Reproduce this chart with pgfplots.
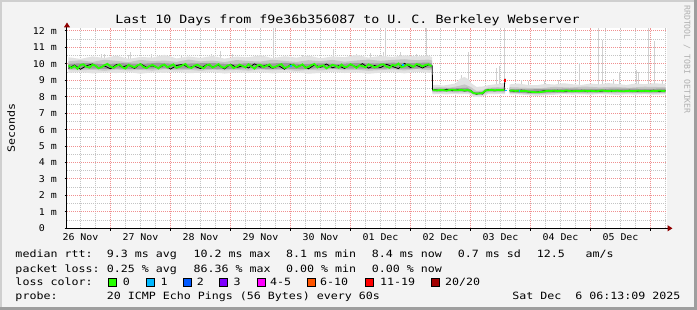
\documentclass[border=0pt]{standalone}
\usepackage{pgfplots}
\pgfplotsset{compat=1.18}
\usepackage{fontspec}
\usetikzlibrary{arrows.meta}
\newfontfamily\monoT[FakeStretch=1.166]{DejaVu Sans Mono}
\newfontfamily\monoL[FakeStretch=1.163]{DejaVu Sans Mono}
\newfontfamily\monoK[FakeStretch=1.07]{DejaVu Sans Mono}
\newfontfamily\monoW{DejaVu Sans Mono}
\newcommand\titlefont{\monoT\fontsize{11.4}{12}\selectfont}
\newcommand\legfont{\monoL\fontsize{10}{11}\selectfont}
\newcommand\tickfont{\monoK\fontsize{9.3}{10}\selectfont}
\definecolor{canvas}{HTML}{F3F3F3}
\definecolor{shadea}{HTML}{CFCFCF}
\definecolor{shadeb}{HTML}{9E9E9E}
\definecolor{majgrid}{HTML}{F09090}
\definecolor{mingrid}{HTML}{C4C4C4}
\definecolor{arrowred}{HTML}{900000}
\definecolor{smokeA}{HTML}{E2E2E2}
\definecolor{smokeB}{HTML}{C6C6C6}
\definecolor{smokeC}{HTML}{9C9C9C}
\definecolor{spike}{HTML}{D0D0D0}
\definecolor{loss0}{HTML}{26FF00}
\definecolor{loss1}{HTML}{00B8FF}
\definecolor{loss2}{HTML}{0059FF}
\definecolor{loss3}{HTML}{7E00FF}
\definecolor{loss4}{HTML}{FF00FF}
\definecolor{loss6}{HTML}{FF5500}
\definecolor{loss11}{HTML}{FF0000}
\definecolor{loss20}{HTML}{A10000}
\definecolor{wmark}{HTML}{B0B0B0}
\begin{document}
\begin{tikzpicture}[x=1pt,y=1pt]
\useasboundingbox (0,0) rectangle (697,310);
\fill[canvas] (0,0) rectangle (697,310);
\fill[shadea] (0,0) rectangle (2,310);
\fill[shadea] (0,308) rectangle (697,310);
\fill[shadeb] (694,0) rectangle (697,310);
\fill[shadeb] (0,0) rectangle (697,3);

\begin{axis}[
  at={(67pt,81.7pt)}, anchor=south west,
  scale only axis, width=600pt, height=200.3pt,
  xmin=0.275, xmax=10.275, ymin=0, ymax=12.18,
  axis background/.style={fill=white},
  axis lines=left,
  axis line style={draw=black, line width=1pt, -{Triangle[length=5pt,width=6pt,color=arrowred,fill=arrowred]}, shorten >=-5.5pt},
  xtick={1,2,3,4,5,6,7,8,9,10}, xticklabels={},
  minor xtick={0.5,0.75,1.25,1.5,1.75,2.25,2.5,2.75,3.25,3.5,3.75,4.25,4.5,4.75,5.25,5.5,5.75,6.25,6.5,6.75,7.25,7.5,7.75,8.25,8.5,8.75,9.25,9.5,9.75,10.25},
  ytick={0,1,2,3,4,5,6,7,8,9,10,11,12},
  yticklabels={0\phantom{\ m},1 m,2 m,3 m,4 m,5 m,6 m,7 m,8 m,9 m,10 m,11 m,12 m},
  minor ytick={0.5,1.5,2.5,3.5,4.5,5.5,6.5,7.5,8.5,9.5,10.5,11.5},
  grid=both,
  major grid style={draw=majgrid, line width=1pt, dash pattern=on 1pt off 1pt},
  minor grid style={draw=mingrid, line width=1pt, dash pattern=on 1pt off 1pt},
  tick align=outside, major tick length=2.5pt, minor tick length=0pt,
  tick style={black, line width=1pt},
  extra x ticks={0.5,1.5,2.5,3.5,4.5,5.5,6.5,7.5,8.5,9.5},
  extra x tick labels={26 Nov,27 Nov,28 Nov,29 Nov,30 Nov,01 Dec,02 Dec,03 Dec,04 Dec,05 Dec},
  extra x tick style={grid=none, major tick length=0pt},
  xticklabel style={font=\tickfont, anchor=north, inner sep=0pt, yshift=-5pt},
  yticklabel style={font=\tickfont, anchor=east, inner sep=0pt, xshift=-7.4pt},
  unbounded coords=jump,
]
% spikes
\addplot[spike, line width=1pt] coordinates {
(0.85,10.3)(0.85,10.57)(0.85,nan)(0.90,10.3)(0.90,10.62)(0.90,nan)
(1.30,10.3)(1.30,10.55)(1.30,nan)(1.34,10.3)(1.34,10.70)(1.34,nan)
(1.68,10.3)(1.68,10.60)(1.68,nan)(2.18,10.3)(2.18,10.50)(2.18,nan)
(2.69,10.3)(2.69,10.60)(2.69,nan)(2.83,10.3)(2.83,10.80)(2.83,nan)
(3.04,10.3)(3.04,10.60)(3.04,nan)(3.71,10.3)(3.71,12.18)(3.71,nan)
(4.20,10.3)(4.20,10.55)(4.20,nan)(4.71,10.3)(4.71,10.90)(4.71,nan)
(5.10,10.3)(5.10,10.60)(5.10,nan)(5.33,10.3)(5.33,10.65)(5.33,nan)
(5.55,10.3)(5.55,10.70)(5.55,nan)(5.59,10.3)(5.59,12.18)(5.59,nan)
(5.83,10.3)(5.83,10.70)(5.83,nan)(6.00,10.3)(6.00,10.50)(6.00,nan)
(6.10,10.3)(6.10,10.60)(6.10,nan)(6.26,10.3)(6.26,12.18)(6.26,nan)
(6.85,8.7)(6.85,9.30)(6.85,nan)(6.96,8.7)(6.96,10.75)(6.96,nan)
(7.44,8.7)(7.44,9.77)(7.44,nan)(7.49,8.7)(7.49,9.85)(7.49,nan)
(7.56,8.7)(7.56,12.18)(7.56,nan)(7.85,8.7)(7.85,9.04)(7.85,nan)
(7.96,8.7)(7.96,8.94)(7.96,nan)(8.24,8.7)(8.24,8.95)(8.24,nan)
(8.46,8.7)(8.46,9.04)(8.46,nan)(8.81,8.7)(8.81,10.04)(8.81,nan)
(9.13,8.7)(9.13,12.18)(9.13,nan)(9.20,8.7)(9.20,11.46)(9.20,nan)
(9.38,8.7)(9.38,9.10)(9.38,nan)(9.48,8.7)(9.48,9.53)(9.48,nan)
(9.76,8.7)(9.76,9.63)(9.76,nan)(9.80,8.7)(9.80,9.53)(9.80,nan)
(9.97,8.7)(9.97,12.18)(9.97,nan)(10.07,8.7)(10.07,11.36)(10.07,nan)
(10.20,8.7)(10.20,9.00)
};
% light smoke
\addplot[fill=smokeA, draw=none] coordinates {
(0.30,10.40)(0.50,10.30)(0.70,10.45)(0.90,10.35)(1.10,10.50)(1.30,10.30)(1.50,10.42)(1.70,10.38)(1.90,10.55)(2.10,10.33)(2.30,10.45)(2.50,10.36)(2.70,10.48)(2.90,10.32)(3.10,10.44)(3.30,10.40)(3.50,10.52)(3.70,10.35)(3.90,10.46)(4.10,10.38)(4.30,10.50)(4.50,10.34)(4.70,10.45)(4.90,10.40)(5.10,10.55)(5.30,10.38)(5.50,10.48)(5.70,10.42)(5.90,10.52)(6.10,10.45)(6.30,10.50)(6.36,10.40)
(6.36,9.50)(6.30,9.45)(6.10,9.52)(5.90,9.42)(5.70,9.50)(5.50,9.46)(5.30,9.40)(5.10,9.48)(4.90,9.44)(4.70,9.52)(4.50,9.45)(4.30,9.40)(4.10,9.50)(3.90,9.47)(3.70,9.42)(3.50,9.50)(3.30,9.44)(3.10,9.48)(2.90,9.41)(2.70,9.50)(2.50,9.46)(2.30,9.43)(2.10,9.52)(1.90,9.45)(1.70,9.48)(1.50,9.40)(1.30,9.50)(1.10,9.44)(0.90,9.47)(0.70,9.42)(0.50,9.50)(0.30,9.45)
} -- cycle;
\addplot[fill=smokeA, draw=none] coordinates {
(6.365,8.70)(6.45,8.72)(6.55,8.68)(6.65,8.74)(6.75,8.80)(6.83,9.10)(6.90,9.20)(6.97,9.05)(7.02,8.80)(7.10,8.60)(7.20,8.62)(7.30,8.70)(7.40,8.75)(7.50,8.80)(7.575,8.85)
(7.575,8.15)(7.50,8.18)(7.40,8.15)(7.30,8.17)(7.22,8.05)(7.15,7.98)(7.05,8.00)(6.98,8.15)(6.90,8.17)(6.80,8.15)(6.70,8.18)(6.60,8.14)(6.50,8.17)(6.40,8.15)(6.365,8.16)
} -- cycle;
\addplot[fill=smokeA, draw=none] coordinates {
(7.65,8.75)(7.80,8.80)(7.95,8.72)(8.10,8.70)(8.25,8.78)(8.40,8.74)(8.55,8.82)(8.70,8.76)(8.85,8.72)(9.00,8.80)(9.15,8.75)(9.30,8.83)(9.45,8.77)(9.60,8.72)(9.75,8.80)(9.90,8.76)(10.05,8.82)(10.25,8.78)
(10.25,8.15)(10.05,8.12)(9.90,8.16)(9.75,8.13)(9.60,8.15)(9.45,8.11)(9.30,8.14)(9.15,8.16)(9.00,8.12)(8.85,8.15)(8.70,8.13)(8.55,8.16)(8.40,8.12)(8.25,8.10)(8.10,8.05)(7.95,8.10)(7.80,8.14)(7.65,8.15)
} -- cycle;
% mid smoke
\addplot[fill=smokeB, draw=none] coordinates {
(0.30,10.15)(0.50,10.22)(0.70,10.12)(0.90,10.25)(1.10,10.18)(1.30,10.10)(1.50,10.24)(1.70,10.16)(1.90,10.20)(2.10,10.12)(2.30,10.26)(2.50,10.15)(2.70,10.20)(2.90,10.11)(3.10,10.23)(3.30,10.17)(3.50,10.14)(3.70,10.25)(3.90,10.18)(4.10,10.12)(4.30,10.22)(4.50,10.16)(4.70,10.24)(4.90,10.13)(5.10,10.20)(5.30,10.26)(5.50,10.18)(5.70,10.24)(5.90,10.28)(6.10,10.22)(6.30,10.26)(6.36,10.20)
(6.36,9.65)(6.30,9.62)(6.10,9.68)(5.90,9.60)(5.70,9.66)(5.50,9.62)(5.30,9.58)(5.10,9.64)(4.90,9.61)(4.70,9.67)(4.50,9.60)(4.30,9.63)(4.10,9.58)(3.90,9.65)(3.70,9.61)(3.50,9.66)(3.30,9.59)(3.10,9.63)(2.90,9.60)(2.70,9.66)(2.50,9.58)(2.30,9.64)(2.10,9.61)(1.90,9.67)(1.70,9.59)(1.50,9.63)(1.30,9.60)(1.10,9.65)(0.90,9.58)(0.70,9.64)(0.50,9.61)(0.30,9.63)
} -- cycle;
\addplot[fill=smokeB, draw=none] coordinates {
(6.365,8.55)(6.50,8.58)(6.65,8.55)(6.80,8.65)(6.90,8.75)(7.00,8.60)(7.10,8.35)(7.20,8.38)(7.30,8.55)(7.45,8.58)(7.575,8.56)
(7.575,8.25)(7.45,8.27)(7.30,8.26)(7.20,8.12)(7.10,8.10)(7.02,8.25)(6.90,8.27)(6.75,8.25)(6.60,8.28)(6.45,8.26)(6.365,8.27)
} -- cycle;
\addplot[fill=smokeB, draw=none] coordinates {
(7.65,8.58)(7.90,8.55)(8.15,8.52)(8.40,8.60)(8.65,8.56)(8.90,8.62)(9.15,8.57)(9.40,8.60)(9.65,8.55)(9.90,8.61)(10.25,8.58)
(10.25,8.22)(9.90,8.20)(9.65,8.23)(9.40,8.21)(9.15,8.22)(8.90,8.20)(8.65,8.23)(8.40,8.21)(8.15,8.15)(7.90,8.20)(7.65,8.22)
} -- cycle;
% dark smoke
\addplot[fill=smokeC, draw=none] coordinates {
(0.30,10.00)(0.60,10.05)(0.90,9.98)(1.20,10.04)(1.50,10.00)(1.80,10.06)(2.10,9.99)(2.40,10.03)(2.70,10.05)(3.00,9.98)(3.30,10.04)(3.60,10.01)(3.90,10.06)(4.20,9.99)(4.50,10.03)(4.80,10.00)(5.10,10.05)(5.40,10.02)(5.70,10.07)(6.00,10.04)(6.30,10.08)(6.36,10.02)
(6.36,9.72)(6.30,9.74)(6.00,9.70)(5.70,9.73)(5.40,9.69)(5.10,9.72)(4.80,9.70)(4.50,9.74)(4.20,9.68)(3.90,9.71)(3.60,9.69)(3.30,9.73)(3.00,9.70)(2.70,9.68)(2.40,9.72)(2.10,9.70)(1.80,9.73)(1.50,9.68)(1.20,9.71)(0.90,9.69)(0.60,9.72)(0.30,9.70)
} -- cycle;
\addplot[fill=smokeC, draw=none] coordinates {
(6.365,8.48)(6.60,8.50)(6.80,8.52)(6.95,8.55)(7.05,8.30)(7.20,8.30)(7.25,8.48)(7.575,8.50)
(7.575,8.32)(7.25,8.33)(7.20,8.15)(7.05,8.15)(6.95,8.32)(6.60,8.33)(6.365,8.32)
} -- cycle;
\addplot[fill=smokeC, draw=none] coordinates {
(7.65,8.47)(8.00,8.45)(8.30,8.48)(8.70,8.49)(9.10,8.47)(9.50,8.50)(9.90,8.48)(10.25,8.49)
(10.25,8.27)(9.90,8.26)(9.50,8.28)(9.10,8.27)(8.70,8.26)(8.30,8.25)(8.00,8.20)(7.65,8.27)
} -- cycle;
% black line
\addplot[black, line width=0.8pt] coordinates {
(0.3,9.73)(0.4,9.93)(0.5,9.67)(0.6,9.89)(0.7,9.99)(0.8,9.76)(0.9,9.87)(1.0,9.70)(1.1,9.96)(1.2,9.81)(1.3,9.92)(1.4,9.72)(1.5,10.01)(1.6,9.79)(1.7,9.88)(1.8,9.74)(1.9,9.94)(2.0,9.68)(2.1,9.90)(2.2,9.97)(2.3,9.77)(2.4,9.86)(2.5,9.71)(2.6,9.95)(2.7,9.82)(2.8,9.91)(2.9,9.69)(3.0,9.98)(3.1,9.78)(3.2,9.87)(3.3,9.75)(3.4,10.00)(3.5,9.80)(3.6,9.93)(3.7,9.73)(3.8,9.89)(3.9,9.67)(4.0,9.96)(4.1,9.83)(4.2,9.92)(4.3,9.70)(4.4,9.94)(4.5,9.79)(4.6,9.99)(4.7,9.76)(4.8,9.88)(4.9,9.72)(5.0,9.95)(5.1,9.81)(5.2,10.01)(5.3,9.74)(5.4,9.90)(5.5,9.77)(5.6,9.97)(5.7,9.84)(5.8,9.71)(5.9,10.03)(6.0,9.78)(6.1,9.91)(6.2,9.75)(6.3,9.94)(6.35,9.88)(6.363,9.88)(6.366,8.42)
(6.4,8.44)(6.5,8.36)(6.6,8.45)(6.7,8.37)(6.8,8.43)(6.9,8.35)(7.0,8.40)(7.05,8.24)(7.1,8.15)(7.15,8.22)(7.2,8.17)(7.25,8.36)(7.3,8.44)(7.4,8.36)(7.5,8.43)(7.56,8.40)(7.575,9.10)(7.59,nan)
(7.65,8.38)(7.75,8.32)(7.85,8.40)(7.95,8.30)(8.05,8.26)(8.15,8.31)(8.25,8.38)(8.35,8.32)(8.45,8.39)(8.55,8.31)(8.65,8.38)(8.75,8.32)(8.85,8.39)(8.95,8.31)(9.05,8.37)(9.15,8.32)(9.25,8.39)(9.35,8.31)(9.45,8.38)(9.55,8.32)(9.65,8.39)(9.75,8.31)(9.85,8.38)(9.95,8.32)(10.05,8.39)(10.15,8.31)(10.25,8.37)
};
% green median
\addplot[loss0, line width=1.8pt] coordinates {
(0.30,9.90)(0.35,9.75)(0.40,9.87)(0.45,9.70)(0.50,9.93)(0.55,9.97)(0.60,9.82)(0.65,9.77)(0.70,9.95)(0.75,9.89)(0.80,9.73)(0.85,9.80)(0.90,9.92)(0.95,10.00)(1.00,9.83)(1.05,9.76)(1.10,9.88)(1.15,9.96)(1.20,9.79)(1.25,9.71)(1.30,9.94)(1.35,9.86)(1.40,9.78)(1.45,9.91)(1.50,9.98)(1.55,9.81)(1.60,9.74)(1.65,9.87)(1.70,9.93)(1.75,9.84)(1.80,9.72)(1.85,9.90)(1.90,9.95)(1.95,9.79)(2.00,9.88)(2.05,9.97)(2.10,9.76)(2.15,9.82)(2.20,9.92)(2.25,9.99)(2.30,9.80)(2.35,9.75)(2.40,9.89)(2.45,9.94)(2.50,9.83)(2.55,9.73)(2.60,9.91)(2.65,9.96)(2.70,9.77)(2.75,9.86)(2.80,9.98)(2.85,9.81)(2.90,9.76)(2.95,9.90)(3.00,9.93)(3.05,9.74)(3.10,9.82)(3.15,9.95)(3.20,9.87)(3.25,9.78)(3.30,9.97)(3.35,9.84)(3.40,9.71)(3.45,9.91)(3.50,9.94)(3.55,9.80)(3.60,9.88)(3.65,9.96)(3.70,9.77)(3.75,9.83)(3.80,9.92)(3.85,9.98)(3.90,9.75)(3.95,9.81)(4.00,9.90)(4.05,9.95)(4.10,9.79)(4.15,9.86)(4.20,9.97)(4.25,9.76)(4.30,9.82)(4.35,9.93)(4.40,9.99)(4.45,9.78)(4.50,9.87)(4.55,9.91)(4.60,9.73)(4.65,9.84)(4.70,9.94)(4.75,9.89)(4.80,9.77)(4.85,9.96)(4.90,9.80)(4.95,9.83)(5.00,9.98)(5.05,9.88)(5.10,9.75)(5.15,9.92)(5.20,9.86)(5.25,9.79)(5.30,9.97)(5.35,9.90)(5.40,9.78)(5.45,9.84)(5.50,9.95)(5.55,9.97)(5.60,9.83)(5.65,9.76)(5.70,9.93)(5.75,9.89)(5.80,10.02)(5.85,9.80)(5.90,9.86)(5.95,9.96)(6.00,9.91)(6.05,9.82)(6.10,9.98)(6.15,9.95)(6.20,9.84)(6.25,9.93)(6.30,9.97)(6.35,9.85)(6.36,nan)
(6.37,8.41)(6.45,8.38)(6.50,8.42)(6.55,8.40)(6.60,8.37)(6.65,8.41)(6.70,8.43)(6.75,8.39)(6.80,8.40)(6.85,8.42)(6.90,8.38)(6.95,8.41)(7.00,8.36)(7.05,8.22)(7.10,8.19)(7.15,8.20)(7.20,8.23)(7.25,8.38)(7.30,8.40)(7.35,8.42)(7.40,8.39)(7.45,8.41)(7.50,8.40)(7.56,8.42)(7.60,nan)
(7.65,8.36)(7.70,8.38)(7.75,8.35)(7.80,8.37)(7.85,8.34)(7.90,8.36)(7.95,8.33)(8.00,8.30)(8.05,8.29)(8.10,8.27)(8.15,8.28)(8.20,8.30)(8.25,8.34)(8.30,8.36)(8.35,8.35)(8.40,8.37)(8.45,8.34)(8.50,8.36)(8.55,8.35)(8.60,8.38)(8.65,8.35)(8.70,8.33)(8.75,8.36)(8.80,8.34)(8.85,8.35)(8.90,8.37)(8.95,8.34)(9.00,8.36)(9.05,8.35)(9.10,8.33)(9.15,8.36)(9.20,8.38)(9.25,8.35)(9.30,8.34)(9.35,8.36)(9.40,8.35)(9.45,8.37)(9.50,8.34)(9.55,8.33)(9.60,8.35)(9.65,8.36)(9.70,8.34)(9.75,8.35)(9.80,8.37)(9.85,8.34)(9.90,8.36)(9.95,8.35)(10.00,8.33)(10.05,8.36)(10.10,8.35)(10.15,8.37)(10.20,8.35)(10.25,8.36)
};
% loss-coloured bits
\addplot[loss1, line width=1.8pt] coordinates {(3.99,9.88)(4.02,9.88)(4.03,nan)(5.86,9.93)(5.89,9.93)(5.90,nan)(7.575,8.38)(7.61,8.38)(7.62,nan)(7.80,8.37)(7.83,8.37)};
\addplot[loss11, line width=1.2pt] coordinates {(7.575,8.90)(7.575,9.10)};
\end{axis}

% title and side texts
\node[font=\titlefont, anchor=base, inner sep=0pt] at (347.5,286.7) {Last 10 Days from f9e36b356087 to U. C. Berkeley Webserver};
\node[font=\legfont, rotate=90, anchor=base, inner sep=0pt] at (15,182) {Seconds};
\node[font=\monoW\fontsize{8.2}{9}\selectfont, text=wmark, rotate=-90, anchor=base west, inner sep=0pt] at (684.3,305) {RRDTOOL / TOBI OETIKER};

% legend rows
\begin{scope}[every node/.style={font=\legfont, anchor=base west, inner sep=0pt}]
\node at (15.3,52) {median rtt:};
\node at (106.6,52) {9.3 ms avg};
\node at (193.3,52) {10.2 ms max};
\node at (286,52) {8.1 ms min};
\node at (371.6,52) {8.4 ms now};
\node at (457.6,52) {0.7 ms sd};
\node at (536.6,52) {12.5};
\node at (585.3,52) {am/s};
\node at (15.3,37.7) {packet loss:};
\node at (106.6,37.7) {0.25 \% avg};
\node at (193.3,37.7) {86.36 \% max};
\node at (286,37.7) {0.00 \% min};
\node at (371.6,37.7) {0.00 \% now};
\node at (15.3,24) {loss color:};
\node at (122.6,24) {0};
\node at (160.3,24) {1};
\node at (196.6,24) {2};
\node at (233.3,24) {3};
\node at (270,24) {4-5};
\node at (320,24) {6-10};
\node at (380,24) {11-19};
\node at (445,24) {20/20};
\node at (15.3,10) {probe:};
\node at (106.6,10) {20 ICMP Echo Pings (56 Bytes) every 60s};
\node[anchor=base east] at (680.5,10) {Sat Dec\ \ 6 06:13:09 2025};
\end{scope}
\begin{scope}[line width=1pt, draw=black]
\filldraw[fill=loss0] (108.8,23.2) rectangle (116.8,31.2);
\filldraw[fill=loss1] (146.2,23.2) rectangle (154.2,31.2);
\filldraw[fill=loss2] (183.2,23.2) rectangle (191.2,31.2);
\filldraw[fill=loss3] (219.8,23.2) rectangle (227.8,31.2);
\filldraw[fill=loss4] (257.2,23.2) rectangle (265.2,31.2);
\filldraw[fill=loss6] (307.2,23.2) rectangle (315.2,31.2);
\filldraw[fill=loss11] (365.5,23.2) rectangle (373.5,31.2);
\filldraw[fill=loss20] (431.2,23.2) rectangle (439.2,31.2);
\end{scope}
\end{tikzpicture}
\end{document}
